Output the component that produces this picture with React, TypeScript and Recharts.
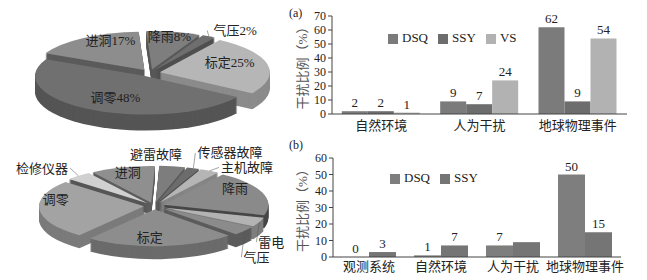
import React from 'react';
import { BarChart, Bar, XAxis, YAxis, Legend, LabelList, PieChart, Pie, Cell } from 'recharts';

const SERIF = "'Liberation Serif', 'Noto Sans CJK SC', serif";
const RAD = Math.PI / 180;

// (a) three instruments
const catsA = ['自然环境', '人为干扰', '地球物理事件'];
const dsqA = [2, 9, 62];
const ssyA = [2, 7, 9];
const vsA = [1, 24, 54];
const ticksA = [0, 10, 20, 30, 40, 50, 60, 70];

// (b) two instruments
const catsB = ['观测系统', '自然环境', '人为干扰', '地球物理事件'];
const dsqB = [0, 1, 7, 50];
const ssyB = [3, 7, 9, 15];
const dsqBLabels = ['0', '1', '7', '50'];
const ssyBLabels = ['3', '7', '', '15'];
const ticksB = [0, 10, 20, 30, 40, 50, 60];

// upper pie (percent), counter-clockwise from 标定
const pieTopNames = ['标定', '气压', '降雨', '进洞', '调零'];
const pieTopValues = [25, 2, 8, 17, 48];

// lower pie, counter-clockwise from 标定
const pieBotNames = ['标定', '气压', '雷电', '降雨', '主机故障', '传感器故障', '避雷故障', '进洞', '检修仪器', '调零'];
const pieBotValues = [23, 4, 4, 20, 3, 2, 4, 10, 4, 26];

type PieSpec = {
  names: string[];
  values: number[];
  withPct: boolean;
  start: number;
  faces: string[];
  sides: string[];
  turn: number[];
  reach: number[];
  leader: boolean[];
};

const topSpec: PieSpec = {
  names: pieTopNames,
  values: pieTopValues,
  withPct: true,
  start: -33,
  faces: ['#b6b6b6', '#6e6e6e', '#7e7e7e', '#8d8d8d', '#707070'],
  sides: ['#8b8b8b', '#4f4f4f', '#585858', '#5b5b5b', '#555555'],
  turn: [9, -6, 1, -12, 4],
  reach: [0.68, 1.26, 0.88, 0.84, 0.63],
  leader: [false, true, false, false, false],
};

const botSpec: PieSpec = {
  names: pieBotNames,
  values: pieBotValues,
  withPct: false,
  start: -128,
  faces: ['#8d8d8d', '#8b8b8b', '#b3b3b3', '#8a8a8a', '#b5b5b5', '#6c6c6c', '#7d7d7d', '#8f8f8f', '#d0d0d0', '#a3a3a3'],
  sides: ['#6b6b6b', '#5c5c5c', '#7e7e7e', '#474747', '#858585', '#4e4e4e', '#5a5a5a', '#5d5d5d', '#565656', '#7b7b7b'],
  turn: [-7, -18, -19, 13, -12, -7, 9, -1, 5, -17],
  reach: [0.75, 1.61, 1.4, 0.81, 1.28, 1.52, 1.32, 0.86, 1.39, 0.86],
  leader: [false, true, true, false, true, true, false, false, true, false],
};

const K = 0.35;
const EXPLODE = 10;

function Pie3D({ spec, top, cx, cyFlat, radius, depth }: { spec: PieSpec; top: number; cx: number; cyFlat: number; radius: number; depth: number }) {
  const w = 290;
  const h = 140;
  const total = spec.values.reduce((a, b) => a + b, 0);
  let acc = spec.start;
  const slices = spec.values.map((v, i) => {
    const s = acc;
    const e = acc + (v / total) * 360;
    acc = e;
    const mid = (s + e) / 2;
    return { idx: i, name: spec.names[i], value: v, s, e, mid, ox: EXPLODE * Math.cos(mid * RAD), oy: -EXPLODE * Math.sin(mid * RAD) };
  });
  const cy = cyFlat / K;
  const layers: number[] = [];
  for (let d = depth; d >= 1; d--) layers.push(d);
  // back to front
  const order = [...slices].sort((a, b) => Math.sin(b.mid * RAD) - Math.sin(a.mid * RAD));

  const box = (key: string, chart: React.ReactNode) => (
    <div key={key} style={{ position: 'absolute', left: 0, top: 0, width: w, height: h }}>
      <div style={{ transform: `scaleY(${K})`, transformOrigin: '0 0', width: w, height: h / K }}>{chart}</div>
    </div>
  );

  const label = (i: number) => () => {
    const sl = slices[i];
    const pcx = cx + sl.ox;
    const pcy = cy + sl.oy;
    const a = (sl.mid + spec.turn[i]) * RAD;
    const r = radius * spec.reach[i];
    const x = pcx + r * Math.cos(a);
    const y = pcy - r * Math.sin(a);
    const text = spec.withPct ? `${sl.name}${sl.value}%` : sl.name;
    let line = null;
    if (spec.leader[i]) {
      const x0 = pcx + radius * Math.cos(sl.mid * RAD);
      const y0 = pcy - radius * Math.sin(sl.mid * RAD);
      const half = text.length * 6.5 + 2;
      const x1 = x > x0 ? x - half : x + half;
      line = <line x1={x0} y1={y0} x2={x1} y2={y} stroke="#555" strokeWidth={0.8} vectorEffect="non-scaling-stroke" />;
    }
    return (
      <g key={`lb${i}`}>
        {line}
        <g transform={`translate(${x},${y}) scale(1,${1 / K})`}>
          <text x={0} y={0} textAnchor="middle" dominantBaseline="central" fontSize={13} fontFamily={SERIF} fill="#222">
            {text}
          </text>
        </g>
      </g>
    );
  };

  return (
    <div style={{ position: 'absolute', left: 0, top, width: w, height: h }}>
      {order.map((sl) =>
        box(
          `slice${sl.idx}`,
          <PieChart width={w} height={h / K} margin={{ top: 0, right: 0, bottom: 0, left: 0 }}>
            {layers.map((d) => (
              <Pie
                key={`d${d}`}
                data={[sl]}
                dataKey="value"
                nameKey="name"
                cx={cx + sl.ox}
                cy={cy + sl.oy + d / K}
                outerRadius={radius}
                startAngle={sl.s}
                endAngle={sl.e}
                stroke="none"
                labelLine={false}
                isAnimationActive={false}
              >
                <Cell fill={spec.sides[sl.idx]} />
              </Pie>
            ))}
            <Pie
              data={[sl]}
              dataKey="value"
              nameKey="name"
              cx={cx + sl.ox}
              cy={cy + sl.oy}
              outerRadius={radius}
              startAngle={sl.s}
              endAngle={sl.e}
              stroke="none"
              labelLine={false}
              isAnimationActive={false}
            >
              <Cell fill={spec.faces[sl.idx]} />
            </Pie>
          </PieChart>
        )
      )}
      {box(
        'labels',
        <PieChart width={w} height={h / K} margin={{ top: 0, right: 0, bottom: 0, left: 0 }}>
          {slices.map((sl) => (
            <Pie
              key={`l${sl.idx}`}
              data={[sl]}
              dataKey="value"
              nameKey="name"
              cx={cx + sl.ox}
              cy={cy + sl.oy}
              outerRadius={radius}
              startAngle={sl.s}
              endAngle={sl.e}
              fill="none"
              stroke="none"
              labelLine={false}
              label={label(sl.idx)}
              isAnimationActive={false}
            >
              <Cell fill="transparent" />
            </Pie>
          ))}
        </PieChart>
      )}
    </div>
  );
}

const tickStyle = { fill: '#222', fontSize: 13, fontFamily: SERIF };
const yTickStyle = { fill: '#222', fontSize: 12, fontFamily: SERIF };
const labelStyle = { fill: '#222', fontSize: 13, fontFamily: SERIF };
const yLabel = {
  value: '干扰比例（%）',
  angle: -90,
  position: 'insideLeft' as const,
  offset: 12,
  style: { textAnchor: 'middle' as const, fill: '#555', fontSize: 13, fontFamily: SERIF },
};
const legendText = (v: string) => <span style={{ color: '#222' }}>{v}</span>;

function ChartA() {
  const rows = catsA.map((c, i) => ({ cat: c, DSQ: dsqA[i], SSY: ssyA[i], VS: vsA[i] }));
  return (
    <BarChart width={357} height={140} data={rows} margin={{ top: 16, right: 20, bottom: 0, left: 0 }} barCategoryGap="10%" barGap={0}>
      <XAxis dataKey="cat" height={26} interval={0} tickLine={false} tickSize={3} tickMargin={4} axisLine={{ stroke: '#444' }} tick={tickStyle} />
      <YAxis width={42} domain={[0, 70]} ticks={ticksA} interval={0} tickSize={4} tickLine={{ stroke: '#444' }} axisLine={{ stroke: '#444' }} tick={yTickStyle} label={yLabel} />
      <Legend
        layout="horizontal"
        align="center"
        verticalAlign="middle"
        iconType="square"
        iconSize={10}
        formatter={legendText}
        wrapperStyle={{ top: 30, left: 98, width: 'auto', fontSize: 13, fontFamily: SERIF }}
      />
      <Bar dataKey="DSQ" fill="#7b7b7b" isAnimationActive={false}>
        <LabelList dataKey="DSQ" position="top" offset={4} style={labelStyle} />
      </Bar>
      <Bar dataKey="SSY" fill="#6d6d6d" isAnimationActive={false}>
        <LabelList dataKey="SSY" position="top" offset={4} style={labelStyle} />
      </Bar>
      <Bar dataKey="VS" fill="#b2b2b2" isAnimationActive={false}>
        <LabelList dataKey="VS" position="top" offset={4} style={labelStyle} />
      </Bar>
    </BarChart>
  );
}

function ChartB() {
  const rows = catsB.map((c, i) => ({ cat: c, DSQ: dsqB[i], SSY: ssyB[i], dsqLabel: dsqBLabels[i], ssyLabel: ssyBLabels[i] }));
  return (
    <BarChart width={357} height={140} data={rows} margin={{ top: 18, right: 26, bottom: 0, left: 0 }} barCategoryGap="12.5%" barGap={0}>
      <XAxis dataKey="cat" height={23} interval={0} tickLine={false} tickSize={3} tickMargin={2} axisLine={{ stroke: '#444' }} tick={tickStyle} />
      <YAxis width={43} domain={[0, 60]} ticks={ticksB} interval={0} tickSize={4} tickLine={{ stroke: '#444' }} axisLine={{ stroke: '#444' }} tick={yTickStyle} label={yLabel} />
      <Legend
        layout="horizontal"
        align="center"
        verticalAlign="middle"
        iconType="square"
        iconSize={10}
        formatter={legendText}
        wrapperStyle={{ top: 30, left: 100, width: 'auto', fontSize: 13, fontFamily: SERIF }}
      />
      <Bar dataKey="DSQ" fill="#7e7e7e" isAnimationActive={false} minPointSize={0.01}>
        <LabelList dataKey="dsqLabel" position="top" offset={4} style={labelStyle} />
      </Bar>
      <Bar dataKey="SSY" fill="#757575" isAnimationActive={false}>
        <LabelList dataKey="ssyLabel" position="top" offset={4} style={labelStyle} />
      </Bar>
    </BarChart>
  );
}

export default function App() {
  return (
    <div style={{ position: 'absolute', left: 0, top: 0, width: 647, height: 280, background: '#fff', overflow: 'hidden', fontFamily: SERIF }}>
      <Pie3D spec={topSpec} top={0} cx={150} cyFlat={73} radius={110} depth={16} />
      <Pie3D spec={botSpec} top={140} cx={154} cyFlat={66} radius={105} depth={13} />
      <div style={{ position: 'absolute', left: 290, top: 0 }}>
        <ChartA />
      </div>
      <div style={{ position: 'absolute', left: 290, top: 140 }}>
        <ChartB />
      </div>
      <div style={{ position: 'absolute', left: 289, top: 6, fontSize: 12, color: '#222' }}>(a)</div>
      <div style={{ position: 'absolute', left: 289, top: 138, fontSize: 12, color: '#222' }}>(b)</div>
    </div>
  );
}
